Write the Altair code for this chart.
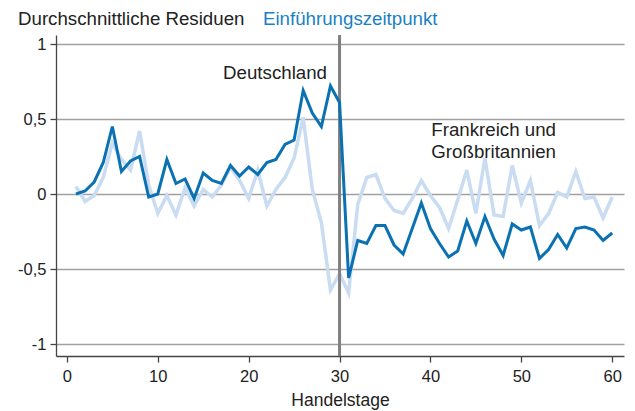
import altair as alt
import pandas as pd

tage = list(range(1, 61))

deutschland = [0.00, 0.02, 0.08, 0.21, 0.45, 0.15, 0.22, 0.25, -0.02, 0.00,
               0.23, 0.07, 0.10, -0.03, 0.14, 0.09, 0.07, 0.19, 0.12, 0.18,
               0.13, 0.21, 0.23, 0.33, 0.36, 0.69, 0.54, 0.45, 0.72, 0.61,
               -0.56, -0.31, -0.33, -0.21, -0.21, -0.34, -0.40, -0.23, -0.06, -0.23,
               -0.33, -0.42, -0.38, -0.18, -0.33, -0.15, -0.30, -0.41, -0.20, -0.24,
               -0.22, -0.43, -0.37, -0.27, -0.36, -0.23, -0.22, -0.24, -0.31, -0.26]

frankreich_gb = [0.05, -0.05, -0.01, 0.11, 0.34, 0.23, 0.16, 0.42, 0.06, -0.13,
                 -0.01, -0.14, 0.04, -0.08, 0.03, -0.02, 0.06, 0.18, 0.09, -0.03,
                 0.16, -0.08, 0.03, 0.11, 0.24, 0.51, 0.03, -0.19, -0.64, -0.53,
                 -0.66, -0.07, 0.11, 0.13, -0.03, -0.11, -0.13, -0.03, 0.09, -0.01,
                 -0.09, -0.23, -0.04, 0.16, -0.13, 0.24, -0.14, -0.15, 0.19, -0.06,
                 0.09, -0.21, -0.13, 0.01, -0.02, 0.15, -0.03, -0.02, -0.16, -0.02]

einfuehrung = [30]
x_ticks = [0, 10, 20, 30, 40, 50, 60]
y_ticks = [-1, -0.5, 0, 0.5, 1]

labels_text = ["Deutschland", "Frankreich und", "Großbritannien"]
labels_x = [22.9, 40.1, 40.1]
labels_y = [0.81, 0.43, 0.28]
labels_align = ["center", "left", "left"]

FONT = "Liberation Sans"
DARK = "#0a72b2"
LIGHT = "#c9dcf2"
TXT = 18.7

df_de = pd.DataFrame({"t": tage, "v": deutschland})
df_fr = pd.DataFrame({"t": tage, "v": frankreich_gb})
df_rule = pd.DataFrame({"t": einfuehrung})
df_lab = pd.DataFrame({"text": labels_text, "t": labels_x, "v": labels_y, "align": labels_align})

xscale = alt.Scale(domain=[-1.2, 61.3], nice=False, zero=False)
yscale = alt.Scale(domain=[-1.08, 1.06], nice=False, zero=False)

xaxis = alt.Axis(values=x_ticks, title="Handelstage", grid=False, format="d",
                 titleFontWeight="normal", titleFontSize=17.5, titlePadding=7,
                 labelPadding=6)
yaxis = alt.Axis(values=y_ticks, title=None, grid=True, gridColor="#a0a0a0",
                 gridWidth=1.3, labelPadding=4,
                 labelExpr="replace(replace(format(datum.value, '~g'), '.', ','), '\u2212', '-')")

light = alt.Chart(df_fr).mark_line(color=LIGHT, strokeWidth=3.5).encode(
    x=alt.X("t:Q", scale=xscale, axis=xaxis),
    y=alt.Y("v:Q", scale=yscale, axis=yaxis),
)

rule = alt.Chart(df_rule).mark_rule(color="#808080", strokeWidth=3).encode(
    x=alt.X("t:Q", scale=xscale)
)

dark = alt.Chart(df_de).mark_line(color=DARK, strokeWidth=3).encode(
    x=alt.X("t:Q", scale=xscale),
    y=alt.Y("v:Q", scale=yscale),
)

lab_c = alt.Chart(df_lab[df_lab["align"] == "center"]).mark_text(
    font=FONT, fontSize=TXT, color="#222222", align="center", baseline="middle"
).encode(x=alt.X("t:Q", scale=xscale), y=alt.Y("v:Q", scale=yscale), text="text:N")

lab_l = alt.Chart(df_lab[df_lab["align"] == "left"]).mark_text(
    font=FONT, fontSize=TXT, color="#222222", align="left", baseline="middle"
).encode(x=alt.X("t:Q", scale=xscale), y=alt.Y("v:Q", scale=yscale), text="text:N")

title1 = alt.Chart(pd.DataFrame({"a": [0]})).mark_text(
    font=FONT, fontSize=TXT, color="#222222", align="left", baseline="middle",
    text="Durchschnittliche Residuen"
).encode(x=alt.value(-38), y=alt.value(-16))

title2 = alt.Chart(pd.DataFrame({"a": [0]})).mark_text(
    font=FONT, fontSize=TXT, color="#1a80c4", align="left", baseline="middle",
    text="Einführungszeitpunkt"
).encode(x=alt.value(207), y=alt.value(-16))

chart = alt.layer(light, rule, dark, lab_c, lab_l, title1, title2).properties(
    width=568, height=321,
    padding={"left": 48, "top": 27, "right": 3, "bottom": 60},
    autosize="none",
).configure_view(stroke=None).configure_axis(
    labelFont=FONT, titleFont=FONT, labelFontSize=16.5, labelColor="#222222",
    titleColor="#222222", domainColor="#444444", tickColor="#444444",
    domainWidth=1.3, tickWidth=1.3, tickSize=6,
)

chart.save("out.html", embed_options={"renderer": "svg", "actions": False})
